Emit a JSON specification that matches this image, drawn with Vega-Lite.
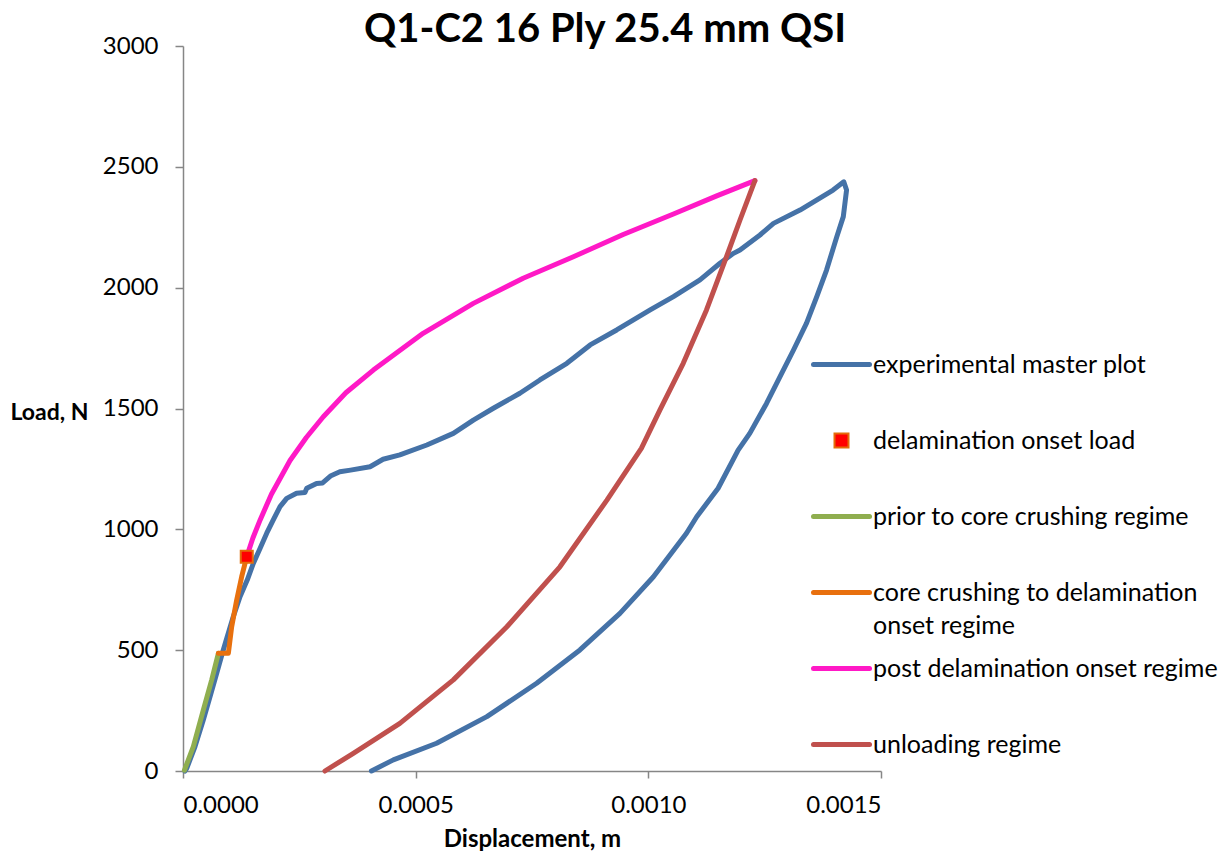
{
  "$schema": "https://vega.github.io/schema/vega-lite/v6.json",
  "width": 698,
  "height": 725,
  "autosize": {"type": "none"},
  "padding": {"left": 183, "top": 46, "right": 348, "bottom": 85},
  "background": "white",
  "config": {"view": {"stroke": null}, "font": "Lato"},
  "title": {"text": "Q1-C2 16 Ply 25.4 mm QSI", "font": "Lato", "fontSize": 40, "fontWeight": "bold", "color": "#000000", "anchor": "middle", "frame": "group", "dx": 73, "dy": 24, "offset": 8},
  "datasets": {
    "lines": [
      {"series": "experimental master plot", "i": 1, "x": 0.000004, "y": 0},
      {"series": "experimental master plot", "i": 2, "x": 0.000008, "y": 11},
      {"series": "experimental master plot", "i": 3, "x": 0.0000258, "y": 101},
      {"series": "experimental master plot", "i": 4, "x": 0.0000436, "y": 211},
      {"series": "experimental master plot", "i": 5, "x": 0.000058, "y": 307},
      {"series": "experimental master plot", "i": 6, "x": 0.0000724, "y": 404},
      {"series": "experimental master plot", "i": 7, "x": 0.0000831, "y": 478},
      {"series": "experimental master plot", "i": 8, "x": 0.0000939, "y": 548},
      {"series": "experimental master plot", "i": 9, "x": 0.000108, "y": 638},
      {"series": "experimental master plot", "i": 10, "x": 0.0001225, "y": 721},
      {"series": "experimental master plot", "i": 11, "x": 0.000138, "y": 790},
      {"series": "experimental master plot", "i": 12, "x": 0.0001511, "y": 859},
      {"series": "experimental master plot", "i": 13, "x": 0.0001655, "y": 921},
      {"series": "experimental master plot", "i": 14, "x": 0.0001799, "y": 984},
      {"series": "experimental master plot", "i": 15, "x": 0.000194, "y": 1039},
      {"series": "experimental master plot", "i": 16, "x": 0.0002085, "y": 1094},
      {"series": "experimental master plot", "i": 17, "x": 0.0002229, "y": 1128},
      {"series": "experimental master plot", "i": 18, "x": 0.000244, "y": 1149},
      {"series": "experimental master plot", "i": 19, "x": 0.000262, "y": 1152},
      {"series": "experimental master plot", "i": 20, "x": 0.000266, "y": 1170},
      {"series": "experimental master plot", "i": 21, "x": 0.000287, "y": 1190},
      {"series": "experimental master plot", "i": 22, "x": 0.000300, "y": 1192},
      {"series": "experimental master plot", "i": 23, "x": 0.000318, "y": 1222},
      {"series": "experimental master plot", "i": 24, "x": 0.000337, "y": 1238},
      {"series": "experimental master plot", "i": 25, "x": 0.000360, "y": 1245},
      {"series": "experimental master plot", "i": 26, "x": 0.000402, "y": 1259},
      {"series": "experimental master plot", "i": 27, "x": 0.000430, "y": 1290},
      {"series": "experimental master plot", "i": 28, "x": 0.000466, "y": 1308},
      {"series": "experimental master plot", "i": 29, "x": 0.000524, "y": 1349},
      {"series": "experimental master plot", "i": 30, "x": 0.000581, "y": 1397},
      {"series": "experimental master plot", "i": 31, "x": 0.000624, "y": 1452},
      {"series": "experimental master plot", "i": 32, "x": 0.000667, "y": 1501},
      {"series": "experimental master plot", "i": 33, "x": 0.000724, "y": 1563},
      {"series": "experimental master plot", "i": 34, "x": 0.000767, "y": 1618},
      {"series": "experimental master plot", "i": 35, "x": 0.000825, "y": 1687},
      {"series": "experimental master plot", "i": 36, "x": 0.000875, "y": 1763},
      {"series": "experimental master plot", "i": 37, "x": 0.000932, "y": 1825},
      {"series": "experimental master plot", "i": 38, "x": 0.001004, "y": 1908},
      {"series": "experimental master plot", "i": 39, "x": 0.001054, "y": 1963},
      {"series": "experimental master plot", "i": 40, "x": 0.001111, "y": 2032},
      {"series": "experimental master plot", "i": 41, "x": 0.001154, "y": 2101},
      {"series": "experimental master plot", "i": 42, "x": 0.001183, "y": 2142},
      {"series": "experimental master plot", "i": 43, "x": 0.001197, "y": 2156},
      {"series": "experimental master plot", "i": 44, "x": 0.001240, "y": 2218},
      {"series": "experimental master plot", "i": 45, "x": 0.001269, "y": 2266},
      {"series": "experimental master plot", "i": 46, "x": 0.001326, "y": 2321},
      {"series": "experimental master plot", "i": 47, "x": 0.001397, "y": 2404},
      {"series": "experimental master plot", "i": 48, "x": 0.001420, "y": 2438},
      {"series": "experimental master plot", "i": 49, "x": 0.001426, "y": 2404},
      {"series": "experimental master plot", "i": 50, "x": 0.001419, "y": 2294},
      {"series": "experimental master plot", "i": 51, "x": 0.001405, "y": 2211},
      {"series": "experimental master plot", "i": 52, "x": 0.001383, "y": 2073},
      {"series": "experimental master plot", "i": 53, "x": 0.001362, "y": 1963},
      {"series": "experimental master plot", "i": 54, "x": 0.001340, "y": 1853},
      {"series": "experimental master plot", "i": 55, "x": 0.001312, "y": 1742},
      {"series": "experimental master plot", "i": 56, "x": 0.001283, "y": 1632},
      {"series": "experimental master plot", "i": 57, "x": 0.001254, "y": 1521},
      {"series": "experimental master plot", "i": 58, "x": 0.001218, "y": 1397},
      {"series": "experimental master plot", "i": 59, "x": 0.001193, "y": 1328},
      {"series": "experimental master plot", "i": 60, "x": 0.001150, "y": 1170},
      {"series": "experimental master plot", "i": 61, "x": 0.001104, "y": 1052},
      {"series": "experimental master plot", "i": 62, "x": 0.001082, "y": 984},
      {"series": "experimental master plot", "i": 63, "x": 0.001011, "y": 804},
      {"series": "experimental master plot", "i": 64, "x": 0.000939, "y": 652},
      {"series": "experimental master plot", "i": 65, "x": 0.000853, "y": 501},
      {"series": "experimental master plot", "i": 66, "x": 0.000760, "y": 363},
      {"series": "experimental master plot", "i": 67, "x": 0.000653, "y": 225},
      {"series": "experimental master plot", "i": 68, "x": 0.000545, "y": 115},
      {"series": "experimental master plot", "i": 69, "x": 0.000452, "y": 46},
      {"series": "experimental master plot", "i": 70, "x": 0.000405, "y": 0},
      {"series": "prior to core crushing regime", "i": 1, "x": 0.000003, "y": 3},
      {"series": "prior to core crushing regime", "i": 2, "x": 0.0000222, "y": 101},
      {"series": "prior to core crushing regime", "i": 3, "x": 0.0000436, "y": 252},
      {"series": "prior to core crushing regime", "i": 4, "x": 0.0000617, "y": 377},
      {"series": "prior to core crushing regime", "i": 5, "x": 0.000076, "y": 487},
      {"series": "core crushing to delamination onset regime", "i": 1, "x": 0.000076, "y": 487},
      {"series": "core crushing to delamination onset regime", "i": 2, "x": 0.0000975, "y": 487},
      {"series": "core crushing to delamination onset regime", "i": 3, "x": 0.0001046, "y": 597},
      {"series": "core crushing to delamination onset regime", "i": 4, "x": 0.0001154, "y": 708},
      {"series": "core crushing to delamination onset regime", "i": 5, "x": 0.0001261, "y": 804},
      {"series": "core crushing to delamination onset regime", "i": 6, "x": 0.000137, "y": 887},
      {"series": "post delamination onset regime", "i": 1, "x": 0.000137, "y": 887},
      {"series": "post delamination onset regime", "i": 2, "x": 0.000150, "y": 963},
      {"series": "post delamination onset regime", "i": 3, "x": 0.000166, "y": 1040},
      {"series": "post delamination onset regime", "i": 4, "x": 0.000190, "y": 1145},
      {"series": "post delamination onset regime", "i": 5, "x": 0.000230, "y": 1285},
      {"series": "post delamination onset regime", "i": 6, "x": 0.000265, "y": 1380},
      {"series": "post delamination onset regime", "i": 7, "x": 0.0003015, "y": 1466},
      {"series": "post delamination onset regime", "i": 8, "x": 0.000350, "y": 1565},
      {"series": "post delamination onset regime", "i": 9, "x": 0.000409, "y": 1659},
      {"series": "post delamination onset regime", "i": 10, "x": 0.000516, "y": 1811},
      {"series": "post delamination onset regime", "i": 11, "x": 0.000624, "y": 1935},
      {"series": "post delamination onset regime", "i": 12, "x": 0.000731, "y": 2039},
      {"series": "post delamination onset regime", "i": 13, "x": 0.000839, "y": 2128},
      {"series": "post delamination onset regime", "i": 14, "x": 0.000946, "y": 2220},
      {"series": "post delamination onset regime", "i": 15, "x": 0.001054, "y": 2305},
      {"series": "post delamination onset regime", "i": 16, "x": 0.001147, "y": 2380},
      {"series": "post delamination onset regime", "i": 17, "x": 0.001229, "y": 2443},
      {"series": "unloading regime", "i": 1, "x": 0.000305, "y": 0},
      {"series": "unloading regime", "i": 2, "x": 0.000366, "y": 73},
      {"series": "unloading regime", "i": 3, "x": 0.000466, "y": 197},
      {"series": "unloading regime", "i": 4, "x": 0.000581, "y": 377},
      {"series": "unloading regime", "i": 5, "x": 0.000696, "y": 597},
      {"series": "unloading regime", "i": 6, "x": 0.000810, "y": 845},
      {"series": "unloading regime", "i": 7, "x": 0.000911, "y": 1121},
      {"series": "unloading regime", "i": 8, "x": 0.000985, "y": 1335},
      {"series": "unloading regime", "i": 9, "x": 0.001025, "y": 1494},
      {"series": "unloading regime", "i": 10, "x": 0.001075, "y": 1687},
      {"series": "unloading regime", "i": 11, "x": 0.001125, "y": 1908},
      {"series": "unloading regime", "i": 12, "x": 0.001168, "y": 2128},
      {"series": "unloading regime", "i": 13, "x": 0.001197, "y": 2280},
      {"series": "unloading regime", "i": 14, "x": 0.001229, "y": 2443}
    ],
    "onset": [
      {"series": "delamination onset load", "x": 0.000137, "y": 887}
    ]
  },
  "layer": [
    {
      "data": {"name": "lines"},
      "mark": {"type": "line", "strokeWidth": 5, "strokeCap": "round", "strokeJoin": "round"},
      "encoding": {
        "x": {
          "field": "x", "type": "quantitative",
          "scale": {"domain": [0, 0.0015], "nice": false, "zero": false},
          "axis": {
            "values": [0, 0.0005, 0.001, 0.0015], "format": ".4f", "grid": false,
            "tickSize": 7, "tickColor": "#868686", "domainColor": "#868686", "domainWidth": 1.5, "tickWidth": 1.5,
            "labelFont": "Lato", "labelFontSize": 24, "labelColor": "#000000", "labelPadding": 15,
            "title": "Displacement, m", "titleFont": "Lato", "titleFontSize": 24, "titleFontWeight": "bold", "titleColor": "#000000", "titlePadding": 10
          }
        },
        "y": {
          "field": "y", "type": "quantitative",
          "scale": {"domain": [0, 3000], "nice": false},
          "axis": {
            "values": [0, 500, 1000, 1500, 2000, 2500, 3000], "format": "d", "grid": false,
            "tickSize": 8, "tickColor": "#868686", "domainColor": "#868686", "domainWidth": 1.5, "tickWidth": 1.5,
            "labelFont": "Lato", "labelFontSize": 24, "labelColor": "#000000", "labelPadding": 17,
            "title": "Load, N", "titleFont": "Lato", "titleFontSize": 23, "titleFontWeight": "bold", "titleColor": "#000000",
            "titleAngle": 0, "titleAlign": "left", "titleBaseline": "middle", "titleX": -173, "titleY": 366
          }
        },
        "order": {"field": "i", "type": "quantitative"},
        "color": {
          "field": "series", "type": "nominal",
          "scale": {
            "domain": ["experimental master plot", "delamination onset load", "prior to core crushing regime", "core crushing to delamination onset regime", "post delamination onset regime", "unloading regime"],
            "range": ["#4572A7", "#E46C0A", "#8FAE4F", "#E8700E", "#FF19C6", "#C0504D"]
          },
          "legend": {
            "title": null, "orient": "none", "legendX": 646, "legendY": 306,
            "symbolType": "stroke", "symbolSize": 3136, "symbolStrokeWidth": 5,
            "labelFont": "Lato", "labelFontSize": 25, "labelColor": "#000000", "labelOffset": 19, "labelLimit": 500,
            "labelBaseline": "top", "rowPadding": 17,
            "labelExpr": "datum.value == 'core crushing to delamination onset regime' ? ['core crushing to delamination', 'onset regime'] : [datum.value, '']",
            "encode": {
              "symbols": {"update": {
                "shape": {"signal": "datum.value == 'delamination onset load' ? 'square' : 'stroke'"},
                "size": {"signal": "datum.value == 'delamination onset load' ? 196 : 3136"},
                "fill": {"signal": "datum.value == 'delamination onset load' ? '#FF0000' : 'transparent'"},
                "strokeWidth": {"signal": "datum.value == 'delamination onset load' ? 2 : 5"},
                "strokeCap": {"value": "round"}
              }},
              "labels": {"update": {"dy": {"value": -12}, "lineHeight": {"value": 33}}}
            }
          }
        }
      }
    },
    {
      "data": {"name": "onset"},
      "mark": {"type": "point", "shape": "square", "size": 144, "filled": true, "fill": "#FF0000", "stroke": "#E46C0A", "strokeWidth": 2, "opacity": 1},
      "encoding": {
        "x": {"field": "x", "type": "quantitative"},
        "y": {"field": "y", "type": "quantitative"}
      }
    }
  ]
}
